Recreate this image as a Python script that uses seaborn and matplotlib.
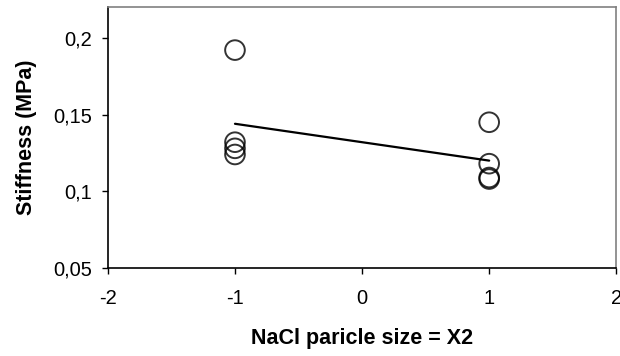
import matplotlib
matplotlib.use("Agg")
import matplotlib.pyplot as plt
import seaborn as sns
import pandas as pd

# data
x_vals = [-1, -1, -1, -1, 1, 1, 1, 1]
stiffness = [0.192, 0.132, 0.128, 0.124, 0.145, 0.118, 0.109, 0.108]
x_ticks = [-2, -1, 0, 1, 2]
y_ticks = [0.05, 0.1, 0.15, 0.2]
y_tick_labels = ["0,05", "0,1", "0,15", "0,2"]

df = pd.DataFrame({"x2": x_vals, "stiffness": stiffness})

sns.set_style("white")
plt.rcParams["font.family"] = ["Liberation Sans", "DejaVu Sans"]
plt.rcParams["text.color"] = "black"
plt.rcParams["axes.labelcolor"] = "black"

fig, ax = plt.subplots(figsize=(6.2, 3.56), dpi=100)
sns.regplot(data=df, x="x2", y="stiffness", ax=ax, ci=None,
            scatter_kws=dict(s=200, facecolors="none", edgecolors="black", linewidths=1.4),
            line_kws=dict(color="black", lw=1.6))

ax.set_xlim(-2, 2)
ax.set_ylim(0.05, 0.22)
ax.set_xticks(x_ticks)
ax.set_xticklabels([str(t) for t in x_ticks])
ax.set_yticks(y_ticks)
ax.set_yticklabels(y_tick_labels)
ax.tick_params(axis="both", direction="out", length=4.3, width=1, labelsize=14.5,
               bottom=True, left=True, colors="black")
ax.tick_params(axis="x", pad=11)
ax.tick_params(axis="y", pad=7)

ax.set_xlabel("NaCl paricle size = X2", fontsize=15.5, fontweight="bold", labelpad=14)
ax.set_ylabel("Stiffness (MPa)", fontsize=15.5, fontweight="bold", labelpad=12)

for side in ["left", "bottom"]:
    ax.spines[side].set_color("black")
    ax.spines[side].set_linewidth(1.2)
for side in ["top", "right"]:
    ax.spines[side].set_color("#808080")
    ax.spines[side].set_linewidth(1.2)

fig.subplots_adjust(left=0.174, right=0.994, top=0.98, bottom=0.247)
fig.savefig("out.png", dpi=100)
